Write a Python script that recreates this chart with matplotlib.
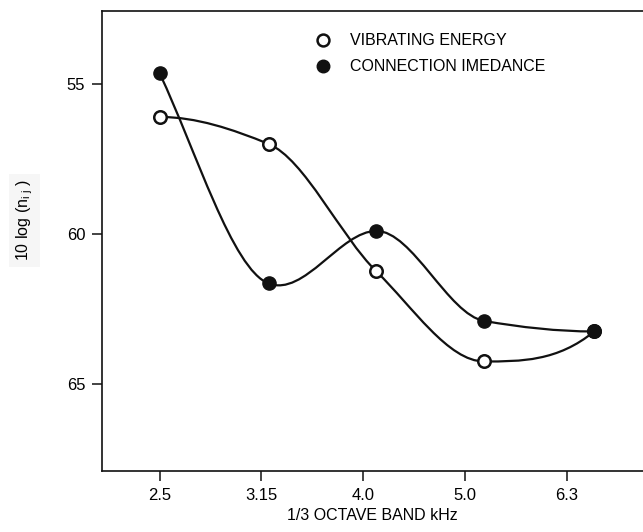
import numpy as np
import matplotlib
matplotlib.use("Agg")
import matplotlib.pyplot as plt
from matplotlib.path import Path
from matplotlib.patches import PathPatch

plt.rcParams['font.family'] = ['Liberation Sans', 'DejaVu Sans']
plt.rcParams['mathtext.default'] = 'regular'

# band labels and where each band's points sit along the axis
bands = ['2.5', '3.15', '4.0', '5.0', '6.3']
tick_pos = [0, 1, 2, 3, 4]
point_pos = [0.0, 1.07, 2.13, 3.19, 4.27]

vibrating_energy = [56.1, 57.0, 61.25, 64.25, 63.25]
connection_imedance = [54.65, 61.65, 59.9, 62.9, 63.25]


def pchip_slopes(x, y):
    # shape preserving slopes, so the curve does not overshoot the points
    x = np.asarray(x, float)
    y = np.asarray(y, float)
    h = np.diff(x)
    d = np.diff(y) / h
    m = np.zeros_like(y)
    for k in range(1, len(y) - 1):
        if d[k - 1] * d[k] > 0:
            w1 = 2 * h[k] + h[k - 1]
            w2 = h[k] + 2 * h[k - 1]
            m[k] = (w1 + w2) / (w1 / d[k - 1] + w2 / d[k])
    for k, (h0, h1, d0, d1) in [(0, (h[0], h[1], d[0], d[1])),
                                (-1, (h[-1], h[-2], d[-1], d[-2]))]:
        s = ((2 * h0 + h1) * d0 - h0 * d1) / (h0 + h1)
        if np.sign(s) != np.sign(d0):
            s = 0.0
        elif np.sign(d0) != np.sign(d1) and abs(s) > abs(3 * d0):
            s = 3 * d0
        m[k] = s
    return m, d


def smooth_path(x, y, straight_start=False):
    # cubic bezier segments through the points
    m, d = pchip_slopes(x, y)
    if straight_start:
        m[0] = 1.1 * d[0]
        m[1] = 0.2 * d[0]
    verts = [(x[0], y[0])]
    codes = [Path.MOVETO]
    for k in range(len(x) - 1):
        h = x[k + 1] - x[k]
        verts += [(x[k] + h / 3, y[k] + m[k] * h / 3),
                  (x[k + 1] - h / 3, y[k + 1] - m[k + 1] * h / 3),
                  (x[k + 1], y[k + 1])]
        codes += [Path.CURVE4] * 3
    return Path(verts, codes)


fig = plt.figure(figsize=(6.43, 5.32), dpi=100)
ax = fig.add_axes([0.1586, 0.1147, 0.8414, 0.8646])

ax.add_patch(PathPatch(smooth_path(point_pos, vibrating_energy), facecolor='none',
                       edgecolor='#111111', lw=1.6, zorder=2))
ax.add_patch(PathPatch(smooth_path(point_pos, connection_imedance, True),
                       facecolor='none', edgecolor='#111111', lw=1.6, zorder=2))

ax.plot(point_pos, vibrating_energy, 'o', ls='none', ms=9, mfc='white',
        mec='#111111', mew=1.8, zorder=3, label='VIBRATING ENERGY')
ax.plot(point_pos, connection_imedance, 'o', ls='none', ms=9.5, mfc='#111111',
        mec='#111111', zorder=4, label='CONNECTION IMEDANCE')

ax.set_xlim(-0.567, 4.75)
ax.set_ylim(67.9, 52.57)
ax.set_xticks(tick_pos)
ax.set_xticklabels(bands)
ax.set_yticks([55, 60, 65])
ax.tick_params(direction='out', length=7, width=1.1, labelsize=12, pad=5,
               color='#111111')

for side in ['left', 'top', 'bottom']:
    ax.spines[side].set_linewidth(1.2)
    ax.spines[side].set_color('#111111')
ax.spines['right'].set_visible(False)

ax.set_xlabel('1/3 OCTAVE BAND kHz', fontsize=11.5, labelpad=4)
ax.set_ylabel('10 log (n$_{i\\ j}$ )', fontsize=11.5,
              bbox=dict(facecolor='#f6f6f6', edgecolor='none', pad=4))
ax.yaxis.set_label_coords(-0.124, 0.545)

ax.legend(loc='upper left', bbox_to_anchor=(0.394, 0.952), frameon=False,
          fontsize=11.5, handlelength=1.0, handletextpad=1.2,
          labelspacing=0.7, borderpad=0, borderaxespad=0, markerscale=0.95)

fig.savefig('out.png', dpi=100)
